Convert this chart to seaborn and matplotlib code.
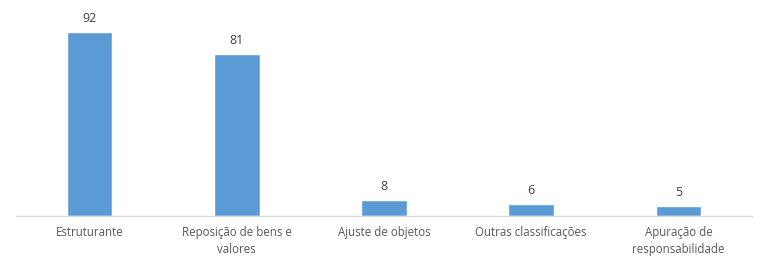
import matplotlib
matplotlib.use("Agg")
import matplotlib.pyplot as plt
import seaborn as sns
import pandas as pd

categories = ["Estruturante", "Reposição de bens e\nvalores", "Ajuste de objetos",
              "Outras classificações", "Apuração de\nresponsabilidade"]
values = [92, 81, 8, 6, 5]

sns.set_theme(style="white")
plt.rcParams['font.family'] = ['Open Sans', 'DejaVu Sans']

df = pd.DataFrame({"cat": categories, "val": values})
fig = plt.figure(figsize=(7.68, 2.66), dpi=100)
ax = fig.add_axes([16/768, 1-216/266, 736/768, 200/266])
sns.barplot(data=df, x="cat", y="val", color="#5B9BD5", width=0.31, ax=ax, saturation=1)
ax.set_ylim(0, 100)
ax.set_xlim(-0.5, 4.5)
for i, v in enumerate(values):
    ax.annotate(str(v), (i, v), xytext=(0, 5), textcoords="offset points",
                ha="center", va="bottom", fontsize=9, color="#404040")
ax.set_xlabel("")
ax.set_ylabel("")
ax.set_yticks([])
ax.tick_params(axis="x", length=0, pad=7, labelsize=8.3, colors="#595959")
for lbl in ax.get_xticklabels():
    lbl.set_linespacing(1.45)
for s in ["top", "right", "left"]:
    ax.spines[s].set_visible(False)
ax.spines["bottom"].set_color("#D9D9D9")
ax.spines["bottom"].set_linewidth(1)
fig.savefig("out.png", dpi=100)
